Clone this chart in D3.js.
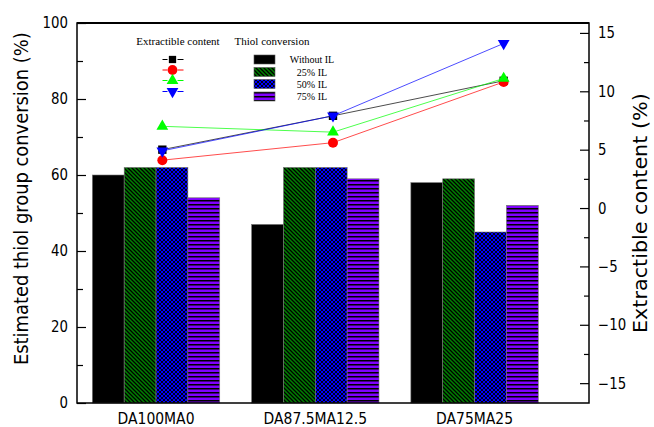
<!DOCTYPE html>
<html><head><meta charset="utf-8">
<script src="https://cdn.jsdelivr.net/npm/d3@7"></script>
<style>body{margin:0;background:#fff}svg{display:block}</style>
</head><body>
<svg id="c" width="654" height="427"></svg>
<script>
const categories = ["DA100MA0", "DA87.5MA12.5", "DA75MA25"];
const seriesNames = ["Without IL", "25% IL", "50% IL", "75% IL"];
const convWithout = [60, 47, 58];
const conv25 = [62, 62, 59];
const conv50 = [62, 62, 45];
const conv75 = [54, 59, 52];
const extWithout = [5.0, 7.9, 10.9];
const ext25 = [4.1, 5.6, 10.8];
const ext50 = [7.0, 6.5, 11.1];
const ext75 = [4.9, 7.9, 14.1];
const leftTicks = [0, 20, 40, 60, 80, 100];
const rightTicks = [-15, -10, -5, 0, 5, 10, 15];

const conv = [convWithout, conv25, conv50, conv75];
const ext = [extWithout, ext25, ext50, ext75];
const lineColors = ["#000000", "#ff0000", "#00ff00", "#0000ff"];
const markerTypes = [d3.symbolSquare, d3.symbolCircle, d3.symbolTriangle, "down"];

const svg = d3.select("#c");
const L = 77, R = 589, T = 23, B = 403;
const font = "'DejaVu Sans',sans-serif";

function squeeze(sel, factor) {
  sel.each(function () {
    const w = this.getComputedTextLength();
    d3.select(this).attr("textLength", w * factor).attr("lengthAdjust", "spacingAndGlyphs");
  });
}

// patterns
const defs = svg.append("defs");
const p1 = defs.append("pattern").attr("id", "p25").attr("patternUnits", "userSpaceOnUse").attr("width", 4).attr("height", 4);
p1.append("rect").attr("width", 4).attr("height", 4).attr("fill", "#008000");
p1.append("path").attr("d", "M-1,-1L5,5M-1,3L1,5M3,-1L5,1").attr("stroke", "#000").attr("stroke-width", 1.3);
const p2 = defs.append("pattern").attr("id", "p50").attr("patternUnits", "userSpaceOnUse").attr("width", 4).attr("height", 4);
p2.append("rect").attr("width", 4).attr("height", 4).attr("fill", "#0000ff");
p2.append("path").attr("d", "M-1,-1L5,5M-1,3L1,5M3,-1L5,1M-1,5L5,-1M-1,1L1,-1M3,5L5,3").attr("stroke", "#000").attr("stroke-width", 0.9);
const p3 = defs.append("pattern").attr("id", "p75").attr("patternUnits", "userSpaceOnUse").attr("width", 4).attr("height", 4);
p3.append("rect").attr("width", 4).attr("height", 4).attr("fill", "#8000ff");
p3.append("rect").attr("y", 0).attr("width", 4).attr("height", 1.5).attr("fill", "#000");
const fills = ["#000000", "url(#p25)", "url(#p50)", "url(#p75)"];

// scales
const yL = d3.scaleLinear().domain([0, 100]).range([B, T]);
const yR = d3.scaleLinear().domain([-16.7, 15.85]).range([B, T]);
const xBand = d3.scaleBand().domain(categories).range([76.4, 554.2]).paddingInner(0.2).paddingOuter(0.1);
const xSub = d3.scaleBand().domain(d3.range(4)).range([0, xBand.bandwidth()]);
const xPt = d3.scaleLinear().domain([0.5, 3.5]).range([L, R]);

// bars
conv.forEach((vals, s) => {
  svg.append("g").selectAll("rect").data(vals).join("rect")
    .attr("x", (d, i) => xBand(categories[i]) + xSub(s))
    .attr("y", d => yL(d))
    .attr("width", xSub.bandwidth())
    .attr("height", d => yL(0) - yL(d))
    .attr("fill", fills[s])
    .attr("stroke", "#777").attr("stroke-width", 0.6);
});

// frame
svg.append("rect").attr("x", L).attr("y", T).attr("width", R - L).attr("height", B - T)
  .attr("fill", "none").attr("stroke", "#000").attr("stroke-width", 1.5);
svg.append("line").attr("x1", L).attr("x2", R).attr("y1", T).attr("y2", T).attr("stroke", "#000").attr("stroke-width", 2.2);

// left axis
const gl = svg.append("g").attr("transform", `translate(${L},0)`)
  .call(d3.axisLeft(yL).tickValues(leftTicks).tickSize(-9).tickPadding(9));
gl.select(".domain").remove();
gl.selectAll("text").attr("font-family", font).attr("font-size", 15.5).attr("fill", "#000").call(squeeze, 0.86);
gl.selectAll("line").attr("stroke-width", 1.2);
svg.append("g").attr("transform", `translate(${L},0)`)
  .call(d3.axisLeft(yL).tickValues(d3.range(10, 100, 20)).tickSize(-6).tickFormat(""))
  .call(g => g.select(".domain").remove()).selectAll("line").attr("stroke-width", 1.2);

// right axis
const gr = svg.append("g").attr("transform", `translate(${R},0)`)
  .call(d3.axisRight(yR).tickValues(rightTicks).tickSize(-9).tickPadding(9));
gr.select(".domain").remove();
gr.selectAll("text").attr("font-family", font).attr("font-size", 15.5).attr("fill", "#000").call(squeeze, 0.86);
gr.selectAll("line").attr("stroke-width", 1.2);
svg.append("g").attr("transform", `translate(${R},0)`)
  .call(d3.axisRight(yR).tickValues([-12.5, -7.5, -2.5, 2.5, 7.5, 12.5]).tickSize(-5).tickFormat(""))
  .call(g => g.select(".domain").remove()).selectAll("line").attr("stroke-width", 1.2);

// x labels
svg.append("g").selectAll("text").data(categories).join("text")
  .attr("x", d => xBand(d) + xBand.bandwidth() / 2).attr("y", 424)
  .attr("text-anchor", "middle").attr("font-family", font).attr("font-size", 16)
  .text(d => d).call(squeeze, 0.87);

// axis titles (scaled horizontally to the measured length)
function title(txt, x, yStart, len) {
  const t = svg.append("text").attr("font-family", font).attr("font-size", 19).text(txt);
  const w = t.node().getComputedTextLength();
  t.attr("transform", `translate(${x},${yStart}) rotate(-90) scale(${len / w},1)`);
}
title("Estimated thiol group conversion (%)", 28, 365, 333);
title("Extractible content (%)", 647, 333, 240);

// markers
function marker(sel, t, size) {
  if (t === "down") {
    sel.attr("d", d3.symbol().type(d3.symbolTriangle).size(size)()).attr("transform", (sel.attr("transform") || "") + " rotate(180)");
  } else {
    sel.attr("d", d3.symbol().type(t).size(size)());
  }
}
const sizes = [70, 78, 60, 60];
ext.forEach((vals, s) => {
  const line = d3.line().x((d, i) => xPt(i + 1)).y(d => yR(d));
  svg.append("path").datum(vals).attr("d", line).attr("fill", "none")
    .attr("stroke", lineColors[s]).attr("stroke-width", 1).attr("stroke-opacity", 0.7);
});
ext.forEach((vals, s) => {
  svg.append("g").selectAll("path").data(vals).join("path")
    .each(function (d, i) {
      const p = d3.select(this).attr("transform", `translate(${xPt(i + 1)},${yR(d)})`);
      marker(p, markerTypes[s], sizes[s]);
    })
    .attr("fill", lineColors[s]);
});

// legend
const serif = "'Liberation Serif','Times New Roman',serif";
svg.append("text").attr("x", 178).attr("y", 44.5).attr("text-anchor", "middle")
  .attr("font-family", serif).attr("font-size", 11).text("Extractible content");
svg.append("text").attr("x", 272).attr("y", 44.5).attr("text-anchor", "middle")
  .attr("font-family", serif).attr("font-size", 11).text("Thiol conversion");
const mRows = [59.5, 70, 80.5, 91.5];
const lc = 172.5;
seriesNames.forEach((n, s) => {
  const y = mRows[s];
  svg.append("line").attr("x1", lc - 10).attr("x2", lc - 5).attr("y1", y).attr("y2", y).attr("stroke", lineColors[s]).attr("stroke-width", 1);
  svg.append("line").attr("x1", lc + 5).attr("x2", lc + 11).attr("y1", y).attr("y2", y).attr("stroke", lineColors[s]).attr("stroke-width", 1);
  const p = svg.append("path").attr("transform", `translate(${lc},${y})`);
  marker(p, markerTypes[s], [53, 75, 60, 60][s]);
  p.attr("fill", lineColors[s]);
});
const sRows = [55, 67.5, 79.5, 92];
seriesNames.forEach((n, s) => {
  svg.append("rect").attr("x", 254).attr("y", sRows[s]).attr("width", 21).attr("height", 9)
    .attr("fill", fills[s]).attr("stroke", "#555").attr("stroke-width", 0.6);
  svg.append("text").attr("x", 312).attr("y", sRows[s] + 8).attr("text-anchor", "middle")
    .attr("font-family", serif).attr("font-size", 10).text(n);
});
</script>
</body></html>
